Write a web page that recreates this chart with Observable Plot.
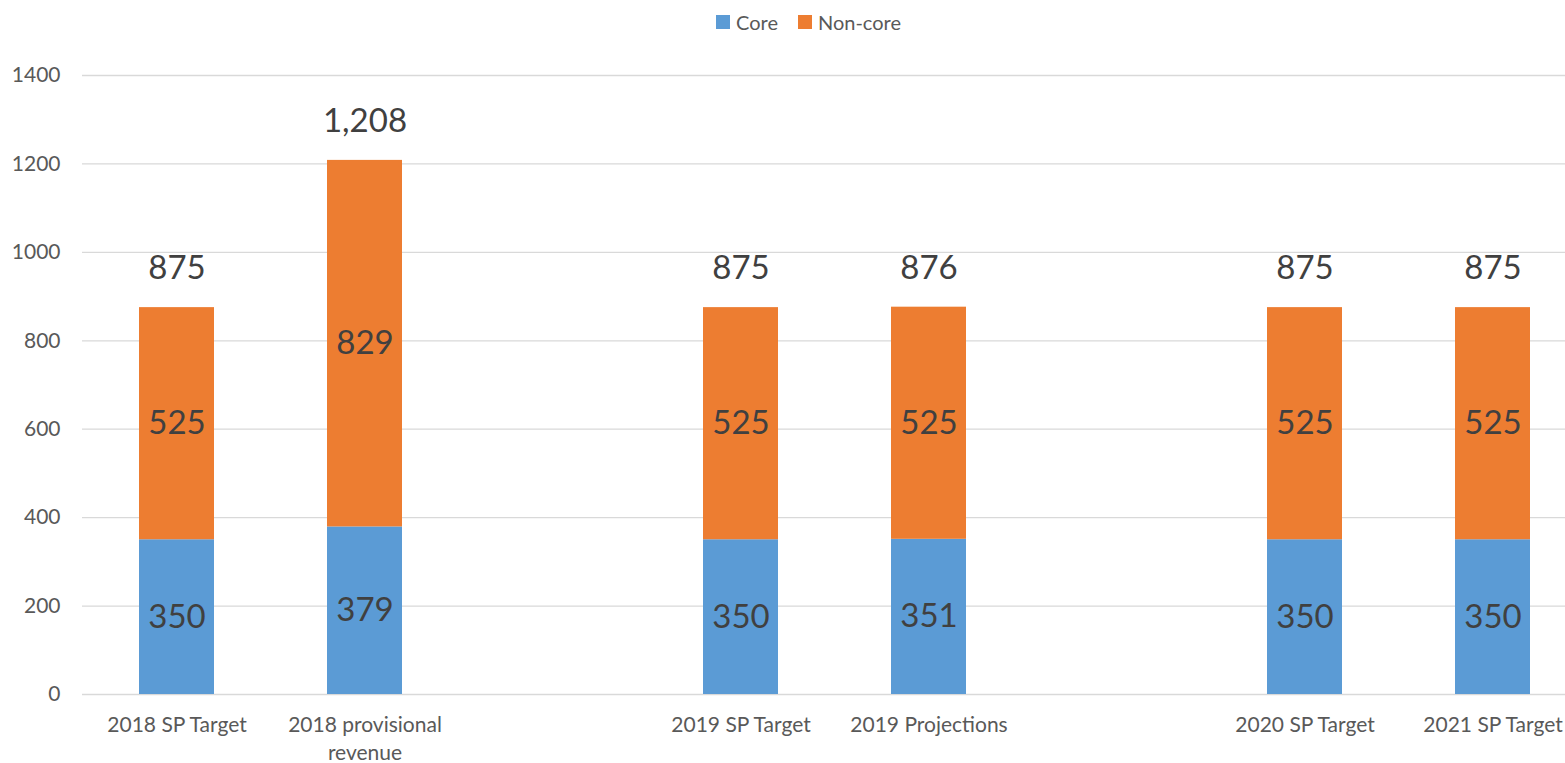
<!DOCTYPE html>
<html>
<head>
<meta charset="utf-8">
<script src="https://cdn.jsdelivr.net/npm/d3@7"></script>
<script src="https://cdn.jsdelivr.net/npm/@observablehq/plot@0.6"></script>
<style>
  html, body { margin: 0; padding: 0; background: #fff; }
  body { width: 1565px; height: 763px; overflow: hidden; font-family: Lato, "Open Sans", sans-serif; }
  #legend { height: 44px; display: flex; justify-content: center; align-items: center; gap: 20px; font-size: 20px; color: #595959; padding-left: 52px; box-sizing: border-box; }
  #legend .item { display: flex; align-items: center; gap: 6px; }
  #legend .sw { width: 14px; height: 14px; display: inline-block; }
  #chart svg { overflow: hidden; }
</style>
</head>
<body>
<div id="legend"></div>
<div id="chart"></div>
<script>
// ---- data ----
const slots = ["2018 SP Target", "2018 provisional revenue", "gap1", "2019 SP Target", "2019 Projections", "gap2", "2020 SP Target", "2021 SP Target"];
const tickLabels = ["2018 SP Target", "2018 provisional\nrevenue", "", "2019 SP Target", "2019 Projections", "", "2020 SP Target", "2021 SP Target"];
const categories = ["2018 SP Target", "2018 provisional revenue", "2019 SP Target", "2019 Projections", "2020 SP Target", "2021 SP Target"];
const core = [350, 379, 350, 351, 350, 350];
const nonCore = [525, 829, 525, 525, 525, 525];
const seriesNames = ["Core", "Non-core"];
const seriesColors = ["#5B9BD5", "#ED7D31"];
const yTicks = [0, 200, 400, 600, 800, 1000, 1200, 1400];

// ---- tables ----
const rows = [];
categories.forEach((c, i) => {
  rows.push({cat: c, series: "Core", value: core[i]});
  rows.push({cat: c, series: "Non-core", value: nonCore[i]});
});
const totals = categories.map((c, i) => ({cat: c, total: core[i] + nonCore[i]}));

// ---- legend ----
const legend = document.getElementById("legend");
seriesNames.forEach((s, i) => {
  const it = document.createElement("span");
  it.className = "item";
  it.innerHTML = `<span class="sw" style="background:${seriesColors[i]}"></span><span>${s}</span>`;
  legend.appendChild(it);
});

const fmt = d3.format(",");

const chart = Plot.plot({
  width: 1565,
  height: 719,
  marginTop: 31,
  marginBottom: 69,
  marginLeft: 82,
  marginRight: 0,
  style: {fontFamily: "Lato, 'Open Sans', sans-serif", color: "#595959", background: "#fff"},
  x: {domain: slots, range: [82, 1587], paddingInner: 0.6, paddingOuter: 0.3, label: null},
  y: {domain: [0, 1400], label: null},
  color: {domain: seriesNames, range: seriesColors},
  marks: [
    Plot.gridY(yTicks, {stroke: "#d9d9d9", strokeOpacity: 1, strokeWidth: 1.3}),
    Plot.axisY(yTicks, {tickSize: 0, tickPadding: 22, fontSize: 21, label: null, fill: "#595959", tickFormat: d => String(d)}),
    Plot.axisX({tickSize: 0, tickPadding: 18, fontSize: 21, lineHeight: 1.33, label: null, fill: "#595959",
      tickFormat: d => tickLabels[slots.indexOf(d)]}),
    Plot.barY(rows, {x: "cat", y: "value", fill: "series", z: "series", order: seriesNames}),
    Plot.text(rows, Plot.stackY({x: "cat", y: "value", z: "series", order: seriesNames,
      text: d => fmt(d.value), fill: "#404040", fontSize: 33})),
    Plot.text(totals, {x: "cat", y: "total", text: d => fmt(d.total), dy: -39, fill: "#404040", fontSize: 33})
  ]
});
document.getElementById("chart").appendChild(chart);
</script>
</body>
</html>
